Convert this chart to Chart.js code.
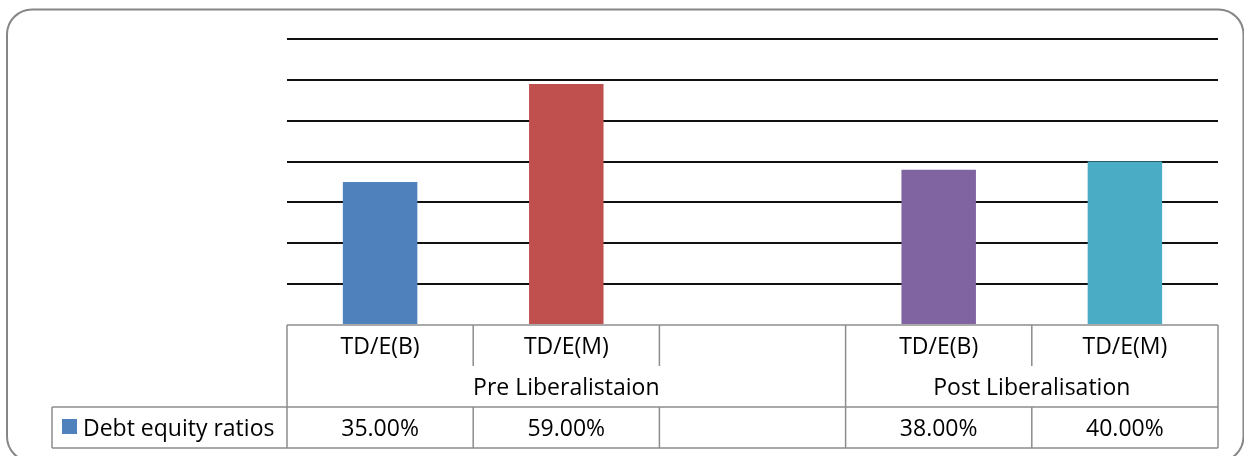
<!DOCTYPE html>
<html>
<head>
<meta charset="utf-8">
<script src="https://cdn.jsdelivr.net/npm/chart.js@4"></script>
<style>
  html, body { margin: 0; padding: 0; background: #fff; }
  #wrap { position: relative; width: 1244px; height: 456px; overflow: hidden; }
  canvas { display: block; }
</style>
</head>
<body>
<div id="wrap"><canvas id="c" width="1244" height="456"></canvas></div>
<script>
// ---- data ----
const categories = ['TD/E(B)', 'TD/E(M)', '', 'TD/E(B)', 'TD/E(M)'];
const groupLabels = ['Pre Liberalistaion', 'Post Liberalisation'];
const groupSpans = [3, 2];
const seriesName = 'Debt equity ratios';
const seriesValues = [35, 59, null, 38, 40];
const barColors = ['#4F81BD', '#C0504D', 'rgba(0,0,0,0)', '#8064A2', '#4BACC6'];
const legendColor = '#4F81BD';
const yTicks = [0, 10, 20, 30, 40, 50, 60, 70];

const FONT = '23px "Open Sans", "Noto Sans", sans-serif';
const LINE = '#8c8c8c';

const tablePlugin = {
  id: 'dataTable',
  beforeDraw(chart) {
    const ctx = chart.ctx;
    ctx.save();
    ctx.strokeStyle = '#868686';
    ctx.lineWidth = 2;
    ctx.beginPath();
    ctx.roundRect(7, 9.5, 1236.5, 452, 25);
    ctx.stroke();
    ctx.restore();
  },
  afterDraw(chart) {
    const ctx = chart.ctx;
    const x = chart.scales.x;
    const area = chart.chartArea;
    const n = categories.length;
    const slot = (area.right - area.left) / n;
    const edge = i => x.getPixelForValue(i) - slot / 2;
    const top = area.bottom;
    const rowH = 41;
    const r1 = top + rowH, r2 = top + 2 * rowH, r3 = top + 3 * rowH;
    const legendLeft = 52;

    ctx.save();
    ctx.strokeStyle = LINE;
    ctx.lineWidth = 1.5;
    const line = (x1, y1, x2, y2) => { ctx.beginPath(); ctx.moveTo(x1, y1); ctx.lineTo(x2, y2); ctx.stroke(); };

    line(area.left, top, area.right, top);
    line(legendLeft, r2, area.right, r2);
    line(legendLeft, r3, area.right, r3);
    line(legendLeft, r2, legendLeft, r3);

    // group boundaries
    const groupEdges = new Set([0]);
    let acc = 0;
    groupSpans.forEach(s => { acc += s; groupEdges.add(acc); });
    for (let i = 0; i <= n; i++) {
      const px = i < n ? edge(i) : area.right;
      if (groupEdges.has(i)) {
        line(px, top, px, r3);
      } else {
        line(px, top, px, r1);
        line(px, r2, px, r3);
      }
    }

    ctx.fillStyle = '#000';
    ctx.font = FONT;
    ctx.textAlign = 'center';
    ctx.textBaseline = 'alphabetic';
    for (let i = 0; i < n; i++) {
      const cx = x.getPixelForValue(i);
      if (categories[i]) ctx.fillText(categories[i], cx, top + 29);
      if (seriesValues[i] !== null) ctx.fillText(seriesValues[i].toFixed(2) + '%', cx, top + 111);
    }
    let start = 0;
    groupSpans.forEach((s, g) => {
      const x1 = edge(start);
      const x2 = start + s < n ? edge(start + s) : area.right;
      ctx.fillText(groupLabels[g], (x1 + x2) / 2, top + 70);
      start += s;
    });

    // legend key
    ctx.fillStyle = legendColor;
    ctx.fillRect(62, r2 + 12, 15, 15);
    ctx.fillStyle = '#000';
    ctx.textAlign = 'left';
    ctx.fillText(seriesName, 83, top + 111);
    ctx.restore();
  }
};

new Chart(document.getElementById('c'), {
  type: 'bar',
  data: {
    labels: categories,
    datasets: [{
      label: seriesName,
      data: seriesValues,
      backgroundColor: barColors,
      borderWidth: 0,
      categoryPercentage: 1,
      barPercentage: 0.4
    }]
  },
  options: {
    responsive: false,
    animation: false,
    layout: { padding: { left: 287, right: 26, top: 39, bottom: 131 } },
    plugins: { legend: { display: false }, tooltip: { enabled: false } },
    scales: {
      x: { display: false },
      y: {
        min: yTicks[0],
        max: yTicks[yTicks.length - 1],
        afterBuildTicks: s => { s.ticks = yTicks.map(v => ({ value: v })); },
        afterFit: s => { s.width = 0; },
        ticks: { display: false },
        border: { display: false },
        grid: {
          drawTicks: false,
          lineWidth: 2,
          color: c => (c.tick && c.tick.value === 0) ? 'rgba(0,0,0,0)' : '#111'
        }
      }
    }
  },
  plugins: [tablePlugin]
});
</script>
</body>
</html>
